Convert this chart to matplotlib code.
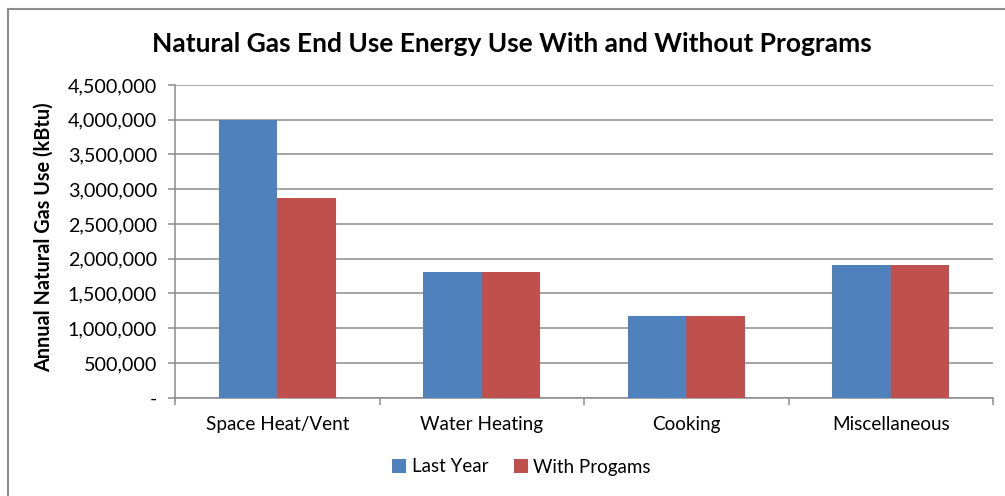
import matplotlib
matplotlib.use("Agg")
import matplotlib.pyplot as plt
from matplotlib.lines import Line2D
from matplotlib.ticker import FuncFormatter, MultipleLocator
import numpy as np

categories = ["Space Heat/Vent", "Water Heating", "Cooking", "Miscellaneous"]
last_year = [3995000, 1805000, 1175000, 1905000]
with_programs = [2870000, 1805000, 1175000, 1905000]
series_names = ["Last Year", "With Progams"]
colors = ["#4F81BD", "#C0504D"]

title = "Natural Gas End Use Energy Use With and Without Programs"
ylabel = "Annual Natural Gas Use (kBtu)"

plt.rcParams["font.family"] = ["Lato", "DejaVu Sans"]

W, H = 1005, 496
fig = plt.figure(figsize=(W / 100, H / 100), dpi=100)
fig.patch.set_facecolor("white")

# plot area in pixel coordinates
left, right, top, bottom = 175, 993, 85, 397.7
ax = fig.add_axes([left / W, 1 - bottom / H, (right - left) / W, (bottom - top) / H])

x = np.arange(len(categories))
bw = 0.285
ax.bar(x - bw / 2, last_year, bw, color=colors[0], label=series_names[0], zorder=3)
ax.bar(x + bw / 2, with_programs, bw, color=colors[1], label=series_names[1], zorder=3)

ax.set_xlim(-0.5, len(categories) - 0.5)
ax.set_ylim(0, 4500000)
ax.yaxis.set_major_locator(MultipleLocator(500000))
ax.yaxis.set_major_formatter(FuncFormatter(lambda v, p: "-" if v == 0 else f"{int(v):,}"))
ax.grid(axis="y", color="#8C8C8C", linewidth=1.1, zorder=0)
ax.set_axisbelow(True)

ax.set_xticks(x)
ax.set_xticklabels(categories)
ax.set_xticks(np.arange(len(categories) + 1) - 0.5, minor=True)
ax.tick_params(axis="x", which="major", length=0, pad=13, labelsize=13.6, colors="black")
ax.tick_params(axis="x", which="minor", length=5, color="#8C8C8C", width=1.1)
ax.tick_params(axis="y", length=5, color="#8C8C8C", width=1.1, labelsize=14.2, pad=8)

for s in ["top", "right"]:
    ax.spines[s].set_visible(False)
for s in ["left", "bottom"]:
    ax.spines[s].set_color("#8C8C8C")
    ax.spines[s].set_linewidth(1.1)

ax.set_ylabel(ylabel, fontsize=14.3, fontweight="bold")
ax.yaxis.set_label_coords(-(175 - 54) / (right - left), (bottom - 237) / (bottom - top))

fig.text(512 / W, 1 - 44 / H, title, ha="center", va="center", fontsize=19, fontweight="bold")

fig.legend(loc="center", bbox_to_anchor=(521.5 / W, 1 - 467 / H), ncol=2, frameon=False,
           fontsize=13.5, handlelength=0.75, handleheight=0.75, handletextpad=0.3,
           columnspacing=1.35)

# chart frame
fig.add_artist(Line2D([7.5 / W, 7.5 / W], [0, 1 - 9 / H], transform=fig.transFigure,
                      color="#8C8C8C", linewidth=1.5))
fig.add_artist(Line2D([7.5 / W, 1], [1 - 9 / H, 1 - 9 / H], transform=fig.transFigure,
                      color="#8C8C8C", linewidth=1.5))

fig.savefig("out.png", dpi=100, facecolor="white")
